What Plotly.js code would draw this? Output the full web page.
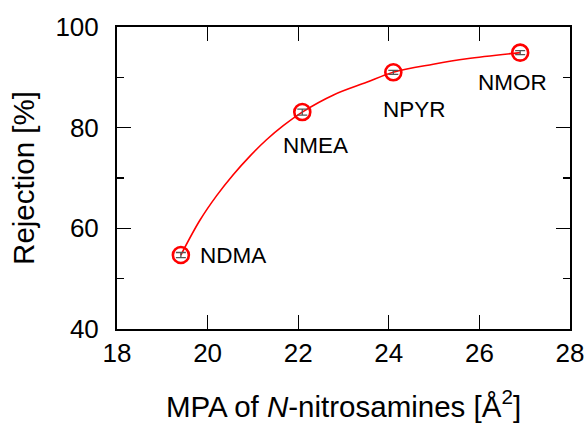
<!DOCTYPE html>
<html>
<head>
<meta charset="utf-8">
<script src="https://cdn.plot.ly/plotly-3.0.1.min.js"></script>
<style>
  html, body { margin: 0; padding: 0; background: #fff; }
  #chart { width: 588px; height: 425px; }
</style>
</head>
<body>
<div id="chart"></div>
<script>
// N-nitrosamine rejection versus minimum projection area (MPA)
const compounds = ['NDMA', 'NMEA', 'NPYR', 'NMOR'];
const mpa = [19.41, 22.09, 24.1, 26.9];          // Å²
const rejection = [54.7, 83.1, 91.0, 94.9];      // %
const rejectionErr = [0.5, 0.6, 0.4, 0.4];       // %

// fitted trend curve, sampled along its length
const fitMpa = [19.41, 19.83, 20.20, 20.57, 20.94, 21.30, 21.67, 22.09, 22.78, 23.51, 24.10, 24.98, 25.72, 26.90];
const fitRejection = [54.7, 61.6, 66.5, 70.7, 74.4, 77.6, 80.4, 83.1, 86.5, 89.0, 91.0, 92.6, 93.7, 94.9];

const yMajorVals = [40, 60, 80, 100];
const yMinorVals = [50, 70, 90];
const xTickVals = [18, 20, 22, 24, 26, 28];
const yRange = [40, 100];

// pixel offsets of each compound label from its point
const labelShift = {
  NDMA: { dx: 52, dy: 0 },
  NMEA: { dx: 13, dy: -33 },
  NPYR: { dx: 21, dy: -37 },
  NMOR: { dx: -8, dy: -30 }
};

const fontFamily = 'Arial, "Liberation Sans", sans-serif';

const fitTrace = {
  x: fitMpa,
  y: fitRejection,
  yaxis: 'y2',
  mode: 'lines',
  line: { color: '#ff0000', width: 1.6, shape: 'spline', smoothing: 1 },
  hoverinfo: 'none',
  showlegend: false
};

const dataTrace = {
  x: mpa,
  y: rejection,
  yaxis: 'y2',
  mode: 'markers',
  marker: {
    symbol: 'circle-open',
    size: 16,
    color: '#ff0000',
    line: { color: '#ff0000', width: 2.6 }
  },
  error_y: {
    type: 'data',
    array: rejectionErr,
    visible: true,
    color: '#555555',
    thickness: 1.3,
    width: 5
  },
  hoverinfo: 'none',
  showlegend: false
};

// anchor trace for the labelled left axis (no visible marks)
const labelAxisTrace = {
  x: [mpa[0]],
  y: [rejection[0]],
  mode: 'markers',
  marker: { opacity: 0 },
  hoverinfo: 'none',
  showlegend: false
};

const annotations = compounds.map((name, i) => ({
  x: mpa[i],
  y: rejection[i],
  xref: 'x',
  yref: 'y2',
  text: name,
  showarrow: false,
  xanchor: 'center',
  yanchor: 'middle',
  xshift: labelShift[name].dx,
  yshift: labelShift[name].dy,
  font: { family: fontFamily, size: 22.5, color: '#000' }
}));

const layout = {
  width: 588,
  height: 425,
  margin: { l: 117, r: 18, t: 27, b: 96 },
  paper_bgcolor: '#fff',
  plot_bgcolor: '#fff',
  font: { family: fontFamily, color: '#000' },
  xaxis: {
    range: [18, 28],
    tickvals: xTickVals,
    ticks: 'inside',
    ticklen: 14,
    tickwidth: 1.4,
    tickcolor: '#000',
    showline: true,
    linecolor: '#000',
    linewidth: 1.6,
    mirror: 'ticks',
    showgrid: false,
    zeroline: false,
    tickfont: { family: fontFamily, size: 26, color: '#000' },
    title: {
      text: 'MPA of <i>N</i>-nitrosamines [Å<sup>2</sup>]',
      font: { family: fontFamily, size: 29.5, color: '#000' },
      standoff: 29
    }
  },
  // left axis carrying the tick labels and title
  yaxis: {
    range: yRange,
    tickvals: yMajorVals,
    ticks: 'outside',
    ticklen: 12,
    tickcolor: 'rgba(0,0,0,0)',
    showline: false,
    showgrid: false,
    zeroline: false,
    tickfont: { family: fontFamily, size: 26, color: '#000' },
    title: {
      text: 'Rejection [%]',
      font: { family: fontFamily, size: 29.5, color: '#000' },
      standoff: 12
    }
  },
  // frame axis with inward major and minor ticks
  yaxis2: {
    range: yRange,
    overlaying: 'y',
    side: 'left',
    tickvals: yMajorVals,
    showticklabels: false,
    ticks: 'inside',
    ticklen: 14,
    tickwidth: 1.4,
    tickcolor: '#000',
    showline: true,
    linecolor: '#000',
    linewidth: 1.6,
    mirror: 'ticks',
    showgrid: false,
    zeroline: false,
    minor: {
      tickvals: yMinorVals,
      ticks: 'inside',
      ticklen: 7,
      tickwidth: 1.4,
      tickcolor: '#000',
      showgrid: false
    }
  },
  annotations: annotations
};

Plotly.newPlot('chart', [labelAxisTrace, fitTrace, dataTrace], layout, { staticPlot: true, displayModeBar: false });
</script>
</body>
</html>
